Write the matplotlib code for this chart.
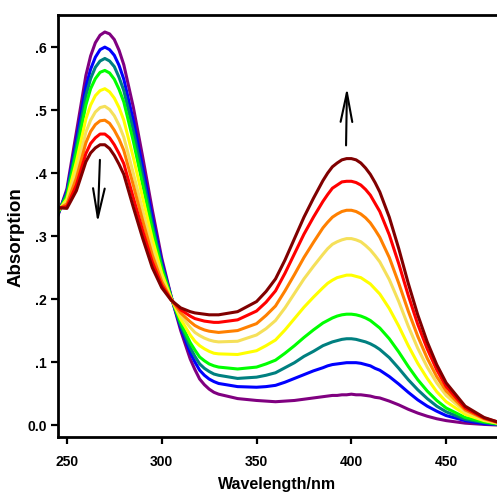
import matplotlib
matplotlib.use("Agg")
import matplotlib.pyplot as plt

wavelength = [245, 250, 255, 260,
              262.5, 265, 267.5, 270, 272.5, 275, 277.5,
              280, 285, 290, 295, 300,
              305, 310, 315, 317.5, 320, 322.5, 325, 327.5, 330,
              340, 350, 355, 360, 365, 370, 375, 380, 385,
              387.5, 390, 392.5, 395, 397.5, 400, 402.5, 405, 407.5, 410, 412.5, 415,
              420, 425, 430, 435, 440, 445, 450,
              460, 470, 477]

purple = [.330, .375, .465, .555,
          .586, .607, .619, .624, .621, .612, .595,
          .572, .505, .425, .342, .265,
          .204, .150, .105, .088, .073, .064, .057, .052, .049,
          .042, .039, .038, .037, .038, .039, .041, .043, .045,
          .046, .047, .047, .048, .048, .049, .048, .048, .047, .046, .044, .043,
          .038, .032, .025, .019, .014, .010, .007,
          .003, .001, .000]
blue = [.332, .371, .452, .537,
        .565, .584, .596, .600, .596, .587, .571,
        .549, .484, .408, .330, .259,
        .203, .155, .115, .100, .087, .079, .073, .069, .066,
        .061, .060, .061, .063, .068, .074, .080, .086, .091,
        .094, .096, .097, .098, .099, .099, .099, .098, .096, .094, .090, .087,
        .077, .065, .052, .040, .030, .022, .015,
        .007, .002, .001]
teal = [.334, .368, .443, .523,
        .550, .568, .578, .582, .578, .569, .552,
        .531, .468, .395, .320, .254,
        .203, .158, .123, .109, .097, .090, .085, .081, .079,
        .074, .076, .079, .083, .091, .099, .109, .117, .126,
        .129, .132, .134, .136, .137, .137, .136, .134, .132, .129, .125, .120,
        .107, .090, .072, .056, .042, .030, .021,
        .009, .004, .001]
green = [.335, .364, .433, .508,
         .534, .550, .560, .563, .559, .549, .533,
         .513, .451, .381, .311, .249,
         .202, .162, .131, .119, .108, .102, .097, .094, .092,
         .089, .092, .097, .103, .114, .126, .139, .151, .162,
         .166, .170, .173, .175, .176, .176, .175, .173, .170, .166, .160, .154,
         .137, .116, .093, .072, .054, .039, .027,
         .012, .005, .002]
yellow = [.338, .359, .418, .486,
          .508, .523, .531, .534, .529, .519, .504,
          .484, .425, .360, .296, .241,
          .201, .168, .143, .133, .126, .121, .117, .114, .113,
          .112, .118, .126, .135, .151, .169, .187, .203, .218,
          .225, .230, .234, .236, .238, .238, .236, .234, .229, .224, .216, .208,
          .185, .157, .126, .098, .074, .053, .037,
          .017, .007, .003]
gold = [.340, .355, .404, .465,
        .484, .497, .504, .506, .501, .491, .476,
        .457, .400, .340, .281, .234,
        .200, .174, .155, .147, .142, .138, .135, .133, .132,
        .133, .143, .153, .166, .186, .209, .232, .252, .271,
        .280, .287, .291, .294, .296, .296, .294, .291, .285, .278, .269, .259,
        .231, .196, .157, .122, .092, .067, .047,
        .021, .008, .003]
orange = [.342, .351, .392, .448,
          .466, .477, .483, .484, .479, .468, .454,
          .436, .381, .324, .270, .228,
          .199, .178, .164, .158, .154, .151, .149, .148, .147,
          .150, .161, .174, .189, .213, .239, .266, .290, .313,
          .322, .330, .335, .339, .341, .341, .339, .335, .329, .321, .310, .298,
          .266, .225, .181, .141, .106, .077, .054,
          .024, .010, .004]
red = [.344, .347, .381, .431,
       .447, .456, .462, .462, .456, .445, .431,
       .415, .361, .308, .259, .222,
       .199, .183, .173, .169, .167, .165, .164, .163, .163,
       .167, .181, .195, .213, .241, .272, .303, .330, .355,
       .366, .376, .381, .386, .387, .387, .385, .381, .374, .365, .352, .339,
       .302, .256, .206, .160, .121, .088, .061,
       .027, .011, .005]
darkred = [.345, .344, .372, .418,
           .432, .440, .445, .445, .439, .428, .414,
           .398, .346, .296, .250, .218,
           .198, .186, .180, .178, .177, .176, .175, .175, .175,
           .180, .196, .212, .232, .262, .296, .330, .360, .388,
           .400, .410, .416, .421, .423, .423, .421, .416, .408, .398, .385, .370,
           .330, .280, .225, .175, .132, .096, .067,
           .030, .012, .005]

series = [purple, blue, teal, green, yellow, gold, orange, red, darkred]
colors = ['#800080', '#0000ff', '#008080', '#00ff00', '#ffff00', '#f5e05a', '#ff8000', '#ff0000', '#800000']

xticks = [250, 300, 350, 400, 450]
yticks = [0.0, 0.1, 0.2, 0.3, 0.4, 0.5, 0.6]
ytick_labels = ['0.0', '.1', '.2', '.3', '.4', '.5', '.6']

family = ['Liberation Sans', 'DejaVu Sans']

fig = plt.figure(figsize=(4.97, 5.0), dpi=100)
ax = fig.add_axes([58/497, 1 - 437/500, 1 - 58/497, (437 - 15)/500])

for s, c in zip(series, colors):
    ax.plot(wavelength, s, color=c, lw=2.2, solid_joinstyle='round', solid_capstyle='round')

ax.set_xlim(245.3, 476.8)
ax.set_ylim(-0.019, 0.651)

ax.spines['right'].set_visible(False)
for sp in ['top', 'bottom', 'left']:
    ax.spines[sp].set_linewidth(2.0)

ax.set_xticks(xticks)
ax.set_xticklabels([str(t) for t in xticks])
ax.set_yticks(yticks)
ax.set_yticklabels(ytick_labels)
ax.tick_params(axis='both', direction='out', width=1.6, length=5)
ax.tick_params(axis='x', pad=8)
ax.tick_params(axis='y', pad=3)
for lab in ax.get_xticklabels() + ax.get_yticklabels():
    lab.set_family(family)
    lab.set_fontweight('bold')
    lab.set_fontsize(10)

ax.set_xlabel('Wavelength/nm', family=family, fontweight='bold', fontsize=11.5, labelpad=6)
ax.set_ylabel('Absorption', family=family, fontweight='bold', fontsize=13.5)
ax.yaxis.set_label_coords(-0.077, 0.474)

arrow_style = '->,head_length=2.1,head_width=0.42'
ax.annotate('', xy=(266.2, 0.321), xytext=(267.4, 0.421),
            arrowprops=dict(arrowstyle=arrow_style, lw=1.5, color='black', shrinkA=0, shrinkB=0))
ax.annotate('', xy=(397.7, 0.536), xytext=(397.2, 0.444),
            arrowprops=dict(arrowstyle=arrow_style, lw=1.5, color='black', shrinkA=0, shrinkB=0))

fig.savefig('out.png', dpi=100)
